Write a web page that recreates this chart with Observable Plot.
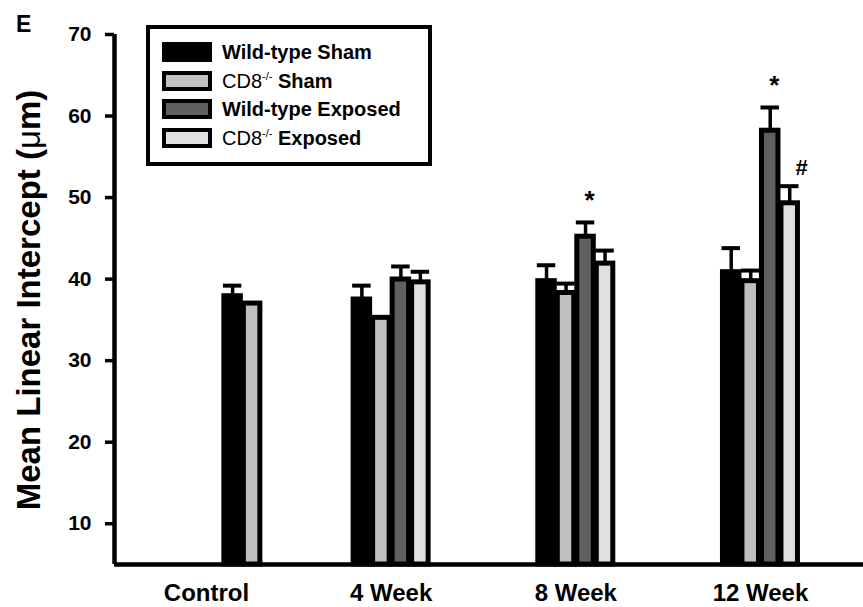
<!DOCTYPE html>
<html>
<head>
<meta charset="utf-8">
<script src="https://cdn.jsdelivr.net/npm/d3@7"></script>
<script src="https://cdn.jsdelivr.net/npm/@observablehq/plot@0.6"></script>
<style>
  html, body { margin: 0; padding: 0; background: #fff; }
  #chart svg { display: block; font-family: "Liberation Sans", Arial, sans-serif; }
</style>
</head>
<body>
<div id="chart"></div>
<script>
// ---- data ----
const categories = ["Control", "4 Week", "8 Week", "12 Week"];
const seriesNames = ["Wild-type Sham", "CD8-/- Sham", "Wild-type Exposed", "CD8-/- Exposed"];
const wtSham          = [37.9, 37.5, 39.75, 40.85];
const wtShamErr       = [1.3, 1.7, 1.95, 2.95];
const cd8Sham         = [37.0, 35.25, 38.3, 39.75];
const cd8ShamErr      = [0, 0, 1.15, 1.3];
const wtExposed       = [null, 39.95, 45.2, 58.2];
const wtExposedErr    = [null, 1.6, 1.75, 2.85];
const cd8Exposed      = [null, 39.6, 41.9, 49.3];
const cd8ExposedErr   = [null, 1.3, 1.6, 2.1];
const yTicks = [10, 20, 30, 40, 50, 60, 70];
const annotCategory = ["8 Week", "12 Week", "12 Week"];
const annotSeries   = ["Wild-type Exposed", "Wild-type Exposed", "CD8-/- Exposed"];
const annotSymbol   = ["*", "*", "#"];

// ---- styles / layout ----
const fills = ["#000000", "#c0c0c0", "#606060", "#e0e0e0"];
const yBase = 5, yMax = 70;
const xMin = -0.498, xMax = 3.558;
const slotWidth = 0.1056;           // width of one bar slot in category units
const controlShift = 0.3;           // control group sits right of its label
const capHalf = 0.05;

const meansBySeries = [wtSham, cd8Sham, wtExposed, cd8Exposed];
const errsBySeries = [wtShamErr, cd8ShamErr, wtExposedErr, cd8ExposedErr];

const rows = [];
categories.forEach((cat, ci) => {
  seriesNames.forEach((s, si) => {
    const m = meansBySeries[si][ci];
    if (m == null) return;
    const left = ci + (ci === 0 ? controlShift : 0) + (si - 2) * slotWidth;
    rows.push({cat, series: s, mean: m, err: errsBySeries[si][ci],
               x1: left, x2: left + slotWidth, xc: left + slotWidth / 2});
  });
});
const withErr = rows.filter(d => d.err > 0);
const annots = annotSymbol.map((sym, k) => {
  const r = rows.find(d => d.cat === annotCategory[k] && d.series === annotSeries[k]);
  return {sym, xc: r.xc, top: r.mean + r.err};
});

const chart = Plot.plot({
  width: 863,
  height: 607,
  marginLeft: 114,
  marginRight: 0,
  marginTop: 34,
  marginBottom: 43,
  style: {fontFamily: '"Liberation Sans", Arial, sans-serif', color: "#000", background: "#fff"},
  x: {domain: [xMin, xMax], axis: null, label: null},
  y: {domain: [yBase, yMax], axis: null, label: null},
  color: {domain: seriesNames, range: fills},
  marks: [
    Plot.rect(rows, {x1: "x1", x2: "x2", y1: () => yBase, y2: "mean", fill: "series",
      stroke: "#000", strokeWidth: 5, insetLeft: 1.5, insetRight: 1.5}),
    Plot.ruleX(withErr, {x: "xc", y1: "mean", y2: d => d.mean + d.err, stroke: "#000", strokeWidth: 3.5}),
    Plot.ruleY(withErr, {y: d => d.mean + d.err, x1: d => d.xc - capHalf, x2: d => d.xc + capHalf,
      stroke: "#000", strokeWidth: 4}),
    Plot.text(annots.filter(d => d.sym === "*"), {x: "xc", y: "top", text: "sym", dy: -22, dx: 4,
      fontSize: 26, fontWeight: "bold", lineAnchor: "middle"}),
    Plot.text(annots.filter(d => d.sym === "#"), {x: "xc", y: "top", text: "sym", dy: -18, dx: 12,
      fontSize: 22, fontWeight: "bold", lineAnchor: "middle"}),
    Plot.ruleY([yBase], {stroke: "#000", strokeWidth: 4.5}),
    Plot.ruleX([xMin], {y1: yBase, y2: yMax, stroke: "#000", strokeWidth: 4.5}),
    Plot.axisY(yTicks, {anchor: "left", tickSize: 9, tickPadding: 14, fontSize: 21,
      fontWeight: "bold", strokeWidth: 3.5, label: null}),
    Plot.axisX([0, 1, 2, 3], {anchor: "bottom", tickSize: 0, tickPadding: 19,
      tickFormat: i => categories[i], fontSize: 24, fontWeight: "bold", label: null})
  ]
});

document.getElementById("chart").appendChild(chart);

// ---- annotations outside the data layer: panel letter, y title, legend ----
const svg = d3.select(chart);
svg.append("text").attr("x", 16).attr("y", 32).attr("text-anchor", "start")
  .attr("font-size", 23).attr("font-weight", "bold").text("E");

const yt = svg.append("text")
  .attr("transform", "translate(40,300) rotate(-90)")
  .attr("text-anchor", "middle")
  .attr("font-size", 33).attr("font-weight", "bold");
yt.append("tspan").text("Mean Linear Intercept (");
yt.append("tspan").attr("font-weight", "normal").text("\u03BC");
yt.append("tspan").text("m)");

const lg = svg.append("g").attr("text-anchor", "start");
lg.append("rect").attr("x", 148).attr("y", 27).attr("width", 282).attr("height", 137)
  .attr("fill", "none").attr("stroke", "#000").attr("stroke-width", 4);
const rowY = [52, 81, 109, 138];
seriesNames.forEach((s, i) => {
  const cy = rowY[i];
  lg.append("rect").attr("x", 164).attr("y", cy - 8).attr("width", 46).attr("height", 16)
    .attr("fill", fills[i]).attr("stroke", "#000").attr("stroke-width", 4);
  const t = lg.append("text").attr("x", 222).attr("y", cy).attr("dy", "0.36em")
    .attr("text-anchor", "start")
    .attr("font-size", 20).attr("font-weight", "bold");
  if (s.startsWith("CD8")) {
    t.append("tspan").attr("font-weight", "normal").text("CD8");
    t.append("tspan").attr("font-size", 11).attr("font-weight", "normal").attr("dy", -8).text("-/-");
    t.append("tspan").attr("dy", 8).text(" " + s.split(" ").slice(1).join(" "));
  } else {
    t.text(s);
  }
});
</script>
</body>
</html>
